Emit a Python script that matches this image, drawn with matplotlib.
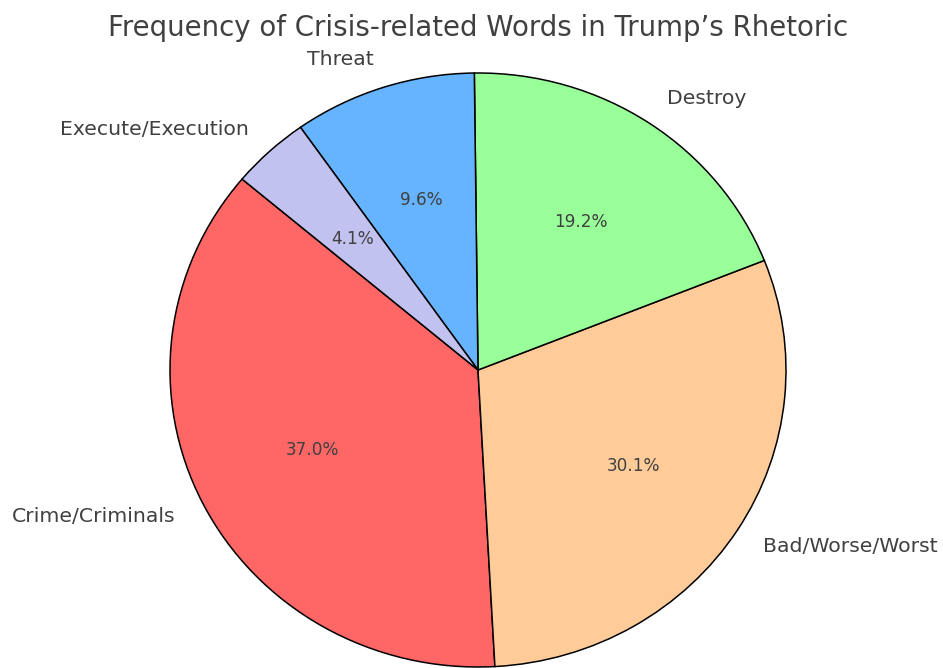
import matplotlib
matplotlib.use("Agg")
import matplotlib.pyplot as plt

# word counts, read back from the percentages (n = 73)
labels = ["Crime/Criminals", "Bad/Worse/Worst", "Destroy", "Threat", "Execute/Execution"]
counts = [27, 22, 14, 7, 3]
colors = ["#ff6666", "#ffcc99", "#99ff99", "#66b3ff", "#c2c2f0"]

TEXT = "#404040"

fig = plt.figure(figsize=(9.43, 6.68), dpi=100)
ax = fig.add_axes([0, 0, 1, 1])

wedges, texts, autotexts = ax.pie(
    counts, labels=labels, colors=colors, autopct="%1.1f%%", startangle=140,
    wedgeprops={"edgecolor": "black", "linewidth": 1.1},
    textprops={"color": TEXT, "fontsize": 14.7},
)
for t in autotexts:
    t.set_fontsize(12.2)

# the pie in the reference is a touch wider than tall and cut at the bottom
ax.set_aspect("auto")
ax.set_xlim(-478 / 308, (943 - 478) / 308)
ax.set_ylim(-298 / 297, (668 - 298) / 297)
ax.axis("off")

fig.text(478 / 943, 1 - 28.5 / 668, "Frequency of Crisis-related Words in Trump’s Rhetoric",
         ha="center", va="center", fontsize=19.9, color=TEXT)

fig.savefig("out.png", dpi=100)
